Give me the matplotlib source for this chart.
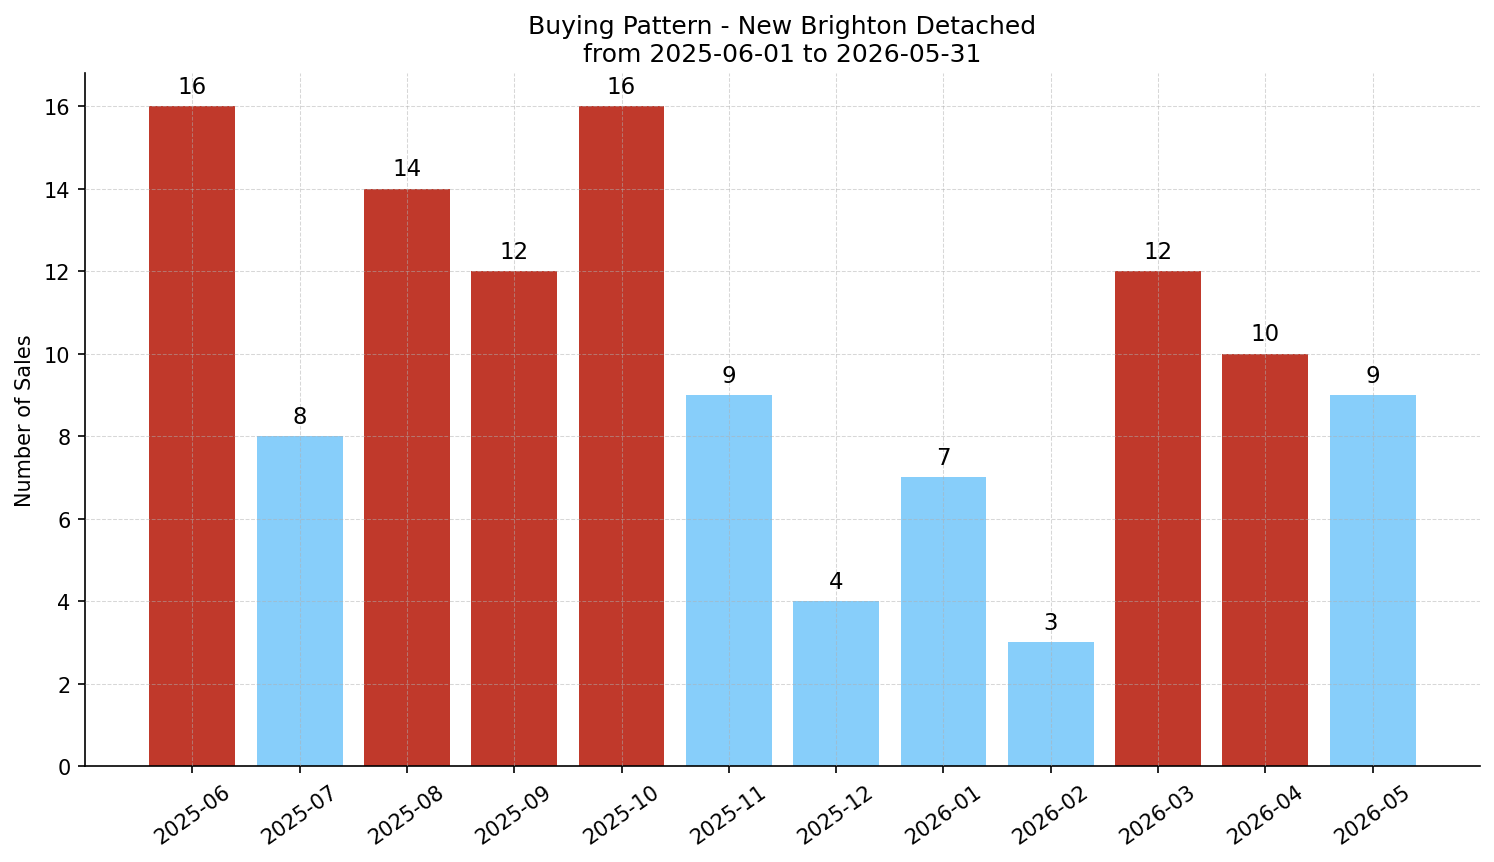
import matplotlib
matplotlib.use("Agg")
import matplotlib.pyplot as plt
import numpy as np

months = ["2025-06", "2025-07", "2025-08", "2025-09", "2025-10", "2025-11",
          "2025-12", "2026-01", "2026-02", "2026-03", "2026-04", "2026-05"]
sales = [16, 8, 14, 12, 16, 9, 4, 7, 3, 12, 10, 9]

RED = "#c0392b"
BLUE = "#87cefa"
mean = np.mean(sales)
colors = [RED if v >= mean else BLUE for v in sales]

fig = plt.figure(figsize=(9.96, 5.7533), dpi=150)
ax = fig.add_axes([0.0569, 0.1112, 0.9337, 0.803])
x = np.arange(len(months))
bars = ax.bar(x, sales, width=0.8, color=colors, zorder=1)
for xi, v in zip(x, sales):
    ax.text(xi, v + 0.2, str(v), ha="center", va="bottom", fontsize=11)

ax.set_xticks(x)
ax.set_xticklabels(months, rotation=35, fontsize=10)
ax.tick_params(axis="y", labelsize=10)
ax.set_xlim(-1, 12)
ax.set_ylim(0, 16.8)
ax.grid(True, linestyle="--", color="#b0b0b0", linewidth=0.5, alpha=0.5, zorder=2)
ax.set_axisbelow(False)
ax.spines["top"].set_visible(False)
ax.spines["right"].set_visible(False)
ax.set_ylabel("Number of Sales", fontsize=10)
ax.set_title("Buying Pattern - New Brighton Detached\nfrom 2025-06-01 to 2026-05-31", fontsize=12)

fig.savefig("out.png", dpi=150)
